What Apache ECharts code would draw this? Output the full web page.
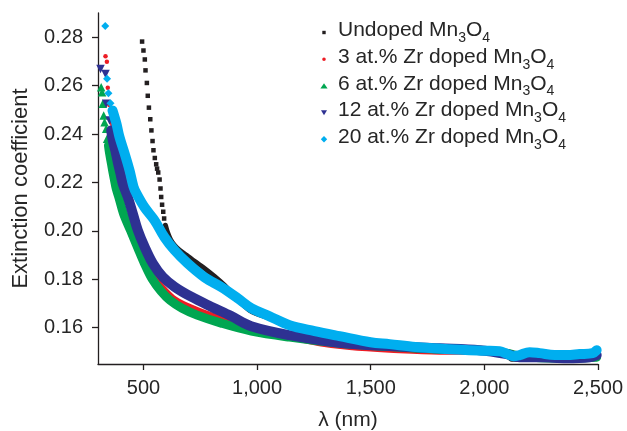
<!DOCTYPE html>
<html>
<head>
<meta charset="utf-8">
<script src="https://cdn.jsdelivr.net/npm/echarts@6/dist/echarts.min.js"></script>
<style>
html,body{margin:0;padding:0;background:#fff;}
#chart{width:627px;height:431px;}
</style>
</head>
<body>
<div id="chart"></div>
<script>
// ---- data (wavelength nm, extinction coefficient) ----
const seriesNames = [
  'Undoped Mn3O4',
  '3 at.% Zr doped Mn3O4',
  '6 at.% Zr doped Mn3O4',
  '12 at.% Zr doped Mn3O4',
  '20 at.% Zr doped Mn3O4'
];

// sparse, individually visible markers at the start of each curve
const undopedHead = [[494,0.2782],[500,0.2745],[506,0.2708],[509,0.2663],[515,0.2611],[519,0.2558],[524,0.2509],[530,0.2461],[535,0.2415],[540,0.2371],[544,0.2333],[550,0.2301],[556,0.2275],[560,0.2257],[565,0.2241],[571,0.2212],[575,0.2175],[578,0.2140],[582,0.2108],[587,0.2079],[591,0.2051]];
const zr3Head = [[333,0.2721],[339,0.2699],[343,0.2591],[350,0.2520]];
const zr6Head = [[314,0.2593],[318,0.2573],[321,0.2525],[325,0.2477],[329,0.2449],[336,0.2422],[340,0.2381]];
const zr12Head = [[311,0.2669],[333,0.2648],[336,0.2525],[351,0.2456]];
const zr20Head = [[332,0.2846],[340,0.2628],[346,0.2568],[355,0.2527]];

// dense parts of each curve (markers overlap into a band)
const undopedBody = [[597,0.2023],[606,0.1994],[619,0.1965],[637,0.1940],[659,0.1920],[690,0.1899],[725,0.1874],[769,0.1845],[813,0.1812],[857,0.1775],[901,0.1730],[967,0.1672],[1055,0.1639],[1143,0.1610],[1275,0.1581],[1363,0.1569],[1495,0.1548],[1627,0.1532],[1803,0.1515],[1979,0.1507],[2067,0.1503],[2098,0.1491],[2120,0.1470],[2155,0.1470],[2243,0.1478],[2362,0.1478],[2463,0.1487],[2494,0.1503]];
const zr3Body = [[359,0.2464],[373,0.2402],[386,0.2340],[403,0.2270],[421,0.2200],[439,0.2134],[461,0.2060],[483,0.1985],[505,0.1915],[531,0.1852],[558,0.1800],[593,0.1760],[641,0.1718],[703,0.1688],[791,0.1656],[888,0.1627],[989,0.1600],[1143,0.1560],[1275,0.1534],[1407,0.1518],[1583,0.1507],[1803,0.1499],[1979,0.1499],[2155,0.1491],[2331,0.1487],[2494,0.1491]];
const zr6Body = [[346,0.2353],[351,0.2320],[359,0.2278],[366,0.2241],[373,0.2208],[380,0.2175],[392,0.2138],[412,0.2072],[443,0.2002],[474,0.1932],[504,0.1866],[539,0.1800],[578,0.1750],[617,0.1713],[670,0.1680],[736,0.1652],[842,0.1619],[975,0.1586],[1143,0.1561],[1363,0.1536],[1583,0.1522],[1803,0.1511],[1979,0.1507],[2098,0.1495],[2155,0.1482],[2331,0.1474],[2494,0.1478]];
const zr12Body = [[358,0.2415],[365,0.2374],[376,0.2333],[387,0.2284],[399,0.2236],[409,0.2195],[431,0.2140],[453,0.2072],[475,0.2003],[505,0.1934],[541,0.1866],[585,0.1810],[637,0.1769],[710,0.1728],[798,0.1687],[886,0.1648],[974,0.1606],[1143,0.1569],[1363,0.1538],[1583,0.1524],[1803,0.1515],[1979,0.1507],[2098,0.1491],[2155,0.1478],[2243,0.1478],[2362,0.1474],[2463,0.1478],[2494,0.1487]];
const zr20Body = [[364,0.2497],[381,0.2443],[395,0.2386],[417,0.2320],[439,0.2249],[456,0.2183],[469,0.2155],[505,0.2097],[549,0.2043],[593,0.1973],[637,0.1920],[694,0.1866],[769,0.1808],[844,0.1767],[914,0.1722],[976,0.1680],[1055,0.1647],[1143,0.1610],[1253,0.1586],[1363,0.1565],[1499,0.1540],[1583,0.1532],[1697,0.1520],[1847,0.1511],[1997,0.1505],[2067,0.1503],[2102,0.1491],[2128,0.1482],[2155,0.1487],[2199,0.1499],[2243,0.1495],[2309,0.1487],[2362,0.1487],[2419,0.1491],[2476,0.1495],[2494,0.1507]];

const yTickLabels = ['0.16','0.18','0.20','0.22','0.24','0.26','0.28'];
const xTickLabels = ['500','1,000','1,500','2,000','2,500'];

// ---- styles ----
const colors = ['#231f20', '#ed1c24', '#00a651', '#2e3192', '#00aeef'];
const heads = [undopedHead, zr3Head, zr6Head, zr12Head, zr20Head];
const bodies = [undopedBody, zr3Body, zr6Body, zr12Body, zr20Body];
const symbols = ['rect', 'circle', 'triangle', 'triangle', 'diamond'];
const symbolSizes = [4.5, 4.5, 8.5, 8.5, 8];
const symbolRotates = [0, 0, 0, 180, 0];
const bandWidths = [5, 5, 9, 10, 10];
const legendIcons = [
  'path://M0,0M8,8M2.3,2.3L5.7,2.3L5.7,5.7L2.3,5.7Z',
  'path://M0,0M8,8M4,2.2A1.8,1.8,0,1,1,3.99,2.2Z',
  'path://M0,0M8,8M4,1.3L7.6,6.6L0.4,6.6Z',
  'path://M0,0M8,8M1,1.6L7,1.6L4,6.6Z',
  'path://M0,0M8,8M4,0.8L7.2,4L4,7.2L0.8,4Z'
];
const textColor = '#262626';
const fontFam = 'Liberation Sans, Arial, sans-serif';

const series = [];
seriesNames.forEach((name, i) => {
  series.push({
    name: name,
    type: 'line',
    data: bodies[i],
    showSymbol: false,
    symbol: 'none',
    smooth: 0.35,
    lineStyle: { width: bandWidths[i], color: colors[i], cap: 'round', join: 'round' },
    itemStyle: { color: colors[i] },
    z: 2 + i,
    animation: false
  });
  series.push({
    name: name,
    type: 'scatter',
    data: heads[i],
    symbol: symbols[i],
    symbolSize: symbolSizes[i],
    symbolRotate: symbolRotates[i],
    itemStyle: { color: colors[i], opacity: 1 },
    z: 2 + i,
    animation: false
  });
});

function legendFormatter(name) {
  const prefix = name.replace('Mn3O4', '');
  return '{m|' + prefix + 'Mn}{s|3}{m|O}{s|4}';
}

const chart = echarts.init(document.getElementById('chart'), null, { renderer: 'canvas' });
chart.setOption({
  animation: false,
  backgroundColor: '#ffffff',
  textStyle: { fontFamily: fontFam },
  grid: { left: 98, right: 29, top: 13, bottom: 67, containLabel: false, outerBoundsMode: 'none' },
  legend: {
    orient: 'vertical',
    left: 315,
    top: 15,
    itemWidth: 8,
    itemHeight: 8,
    itemGap: 1.7,
    selectedMode: false,
    data: seriesNames.map((n, i) => ({ name: n, icon: legendIcons[i], itemStyle: { color: colors[i] } })),
    formatter: legendFormatter,
    textStyle: {
      color: textColor,
      padding: [0, 0, 0, 5],
      rich: {
        m: { fontSize: 21, lineHeight: 25, verticalAlign: 'top', color: textColor, fontFamily: fontFam },
        s: { fontSize: 14, lineHeight: 25, verticalAlign: 'bottom', color: textColor, fontFamily: fontFam }
      }
    }
  },
  xAxis: {
    type: 'value',
    min: 300,
    max: 2500,
    splitNumber: 5,
    minInterval: 500,
    maxInterval: 500,
    name: 'λ (nm)',
    nameLocation: 'middle',
    nameGap: 46,
    nameTextStyle: { fontSize: 21, color: textColor },
    axisLine: { show: true, lineStyle: { color: '#231f20', width: 1.3 } },
    axisTick: { show: true, inside: false, length: 6, lineStyle: { color: '#231f20', width: 1.3 } },
    axisLabel: {
      show: true, fontSize: 20, color: textColor, margin: 14,
      showMinLabel: false,
      formatter: function (v) {
        const s = Math.round(v).toString();
        const idx = xTickLabels.findIndex(t => t.replace(',', '') === s);
        return idx >= 0 ? xTickLabels[idx] : '';
      }
    },
    splitLine: { show: false }
  },
  yAxis: {
    type: 'value',
    min: 0.145,
    max: 0.29,
    splitNumber: 7,
    minInterval: 0.02,
    maxInterval: 0.02,
    name: 'Extinction coefficient',
    nameLocation: 'middle',
    nameGap: 66,
    nameTextStyle: { fontSize: 22, color: textColor },
    axisLine: { show: true, lineStyle: { color: '#231f20', width: 1.3 } },
    axisTick: { show: true, inside: false, length: 6, lineStyle: { color: '#231f20', width: 1.3 } },
    axisLabel: {
      show: true, fontSize: 20, color: textColor, margin: 15,
      showMinLabel: false, showMaxLabel: false,
      formatter: function (v) {
        const s = v.toFixed(2);
        return yTickLabels.indexOf(s) >= 0 ? s : '';
      }
    },
    splitLine: { show: false }
  },
  series: series
});
</script>
</body>
</html>
